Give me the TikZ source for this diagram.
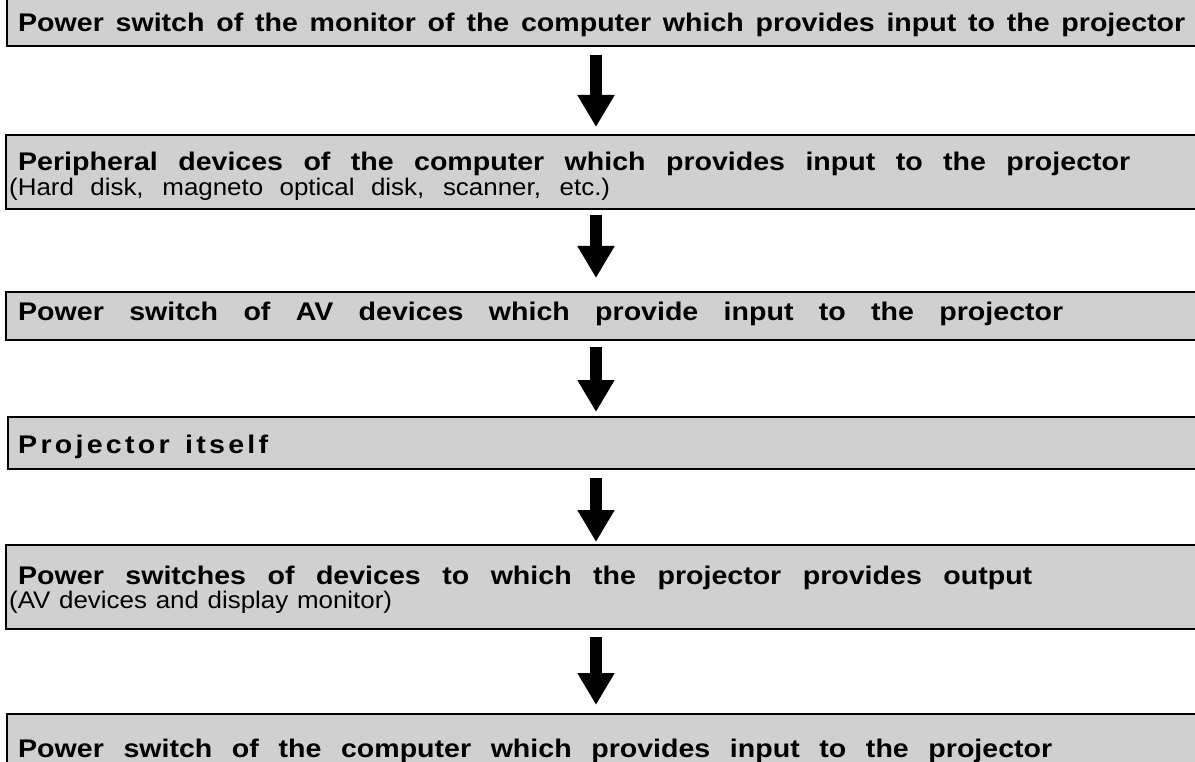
\documentclass[tikz,border=0pt]{standalone}
\usepackage{fontspec}
\usepackage{graphicx}
\setmainfont{Liberation Sans}
\usetikzlibrary{arrows.meta}
\definecolor{boxgray}{RGB}{208,208,208}
\newcommand\fitline[2]{\scalebox{1.12}[1]{\makebox[\dimexpr#1*100/112\relax][s]{#2}}}
\newcommand\fitsub[2]{\scalebox{1.08}[1]{\makebox[\dimexpr#1*100/108\relax][s]{#2}}}
\begin{document}
\begin{tikzpicture}[x=1pt,y=-1pt,
  box/.style={draw=black,line width=2pt,fill=boxgray,rectangle,anchor=north west,inner sep=0pt,outer sep=0pt,minimum width=1200pt},
  txt/.style={anchor=base west,inner sep=0pt,font=\fontsize{25.5pt}{30pt}\selectfont\bfseries},
  sub/.style={anchor=base west,inner sep=0pt,font=\fontsize{24pt}{28pt}\selectfont},
  bigarrow/.style={line width=12pt,-{Triangle[width=35pt,length=32pt]}}]
\useasboundingbox (0,0) rectangle (1195,762);
\fill[white] (0,0) rectangle (1195,762);
% boxes
\node[box,minimum height=47pt] (b1) at (7,-1) {};
\node[box,minimum height=74pt] (b2) at (6,135) {};
\node[box,minimum height=48pt] (b3) at (6,292) {};
\node[box,minimum height=52pt] (b4) at (8,417) {};
\node[box,minimum height=84pt] (b5) at (6,545) {};
\node[box,minimum height=60pt] (b6) at (7,714) {};
% texts
\node[txt] (t1) at (18,32) {\fitline{1167pt}{Power switch of the monitor of the computer which provides input to the projector}};
\node[txt] (t2a) at (18,171) {\fitline{1112pt}{Peripheral devices of the computer which provides input to the projector}};
\node[sub] (t2b) at (9,196) {\fitsub{601pt}{(Hard disk, magneto optical disk, scanner, etc.)}};
\node[txt] (t3) at (18,320) {\fitline{1045pt}{Power switch of AV devices which provide input to the projector}};
\node[txt] (t4) at (18,453) {\fitline{250pt}{\spaceskip=0pt plus 1fil P r o j e c t o r \hspace{8pt} i t s e l f}};
\node[txt] (t5a) at (18,584) {\fitline{1014pt}{Power switches of devices to which the projector provides output}};
\node[sub] (t5b) at (9,608) {\fitsub{383pt}{(AV devices and display monitor)}};
\node[txt] (t6) at (18,757) {\fitline{1034pt}{Power switch of the computer which provides input to the projector}};
% arrows
\coordinate (ax) at (596,0);
\draw[bigarrow,shorten <=9pt,shorten >=8pt] (b1.south -| ax) -- (b2.north -| ax);
\draw[bigarrow,shorten <=6pt,shorten >=14pt] (b2.south -| ax) -- (b3.north -| ax);
\draw[bigarrow,shorten <=7pt,shorten >=5pt] (b3.south -| ax) -- (b4.north -| ax);
\draw[bigarrow,shorten <=9pt,shorten >=3pt] (b4.south -| ax) -- (b5.north -| ax);
\draw[bigarrow,shorten <=8pt,shorten >=9pt] (b5.south -| ax) -- (b6.north -| ax);
\end{tikzpicture}
\end{document}
